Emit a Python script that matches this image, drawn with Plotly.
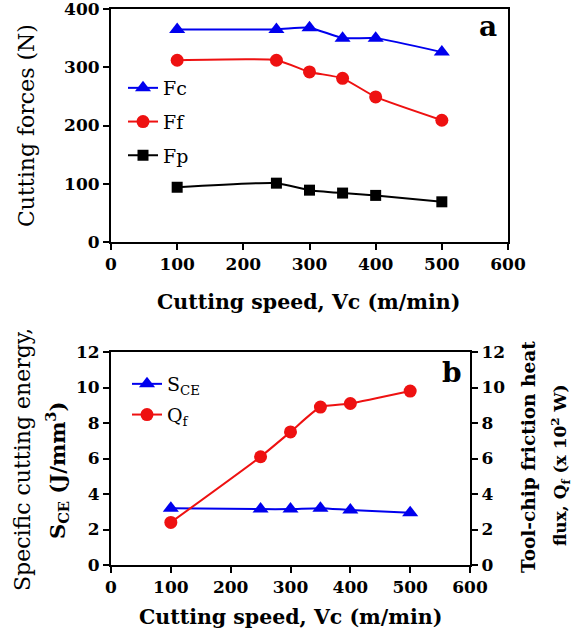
import plotly.graph_objects as go

speed = [100, 250, 300, 350, 400, 500]
Fc = [365, 365, 368, 350, 350, 326]
Ff = [312, 312, 292, 281, 249, 209]
Fp = [94, 101, 89, 84, 80, 69]
S_CE = [3.2, 3.15, 3.15, 3.2, 3.1, 2.95]
Q_f = [2.4, 6.1, 7.5, 8.9, 9.1, 9.8]

W, H = 583, 637
def px(x): return x / W
def py(y): return 1 - y / H

BLUE = "#0000EE"
RED = "#EE1111"
BLACK = "#000000"
SERIF = "DejaVu Serif"

fig = go.Figure()
line_kw = dict(shape="spline", smoothing=0.5, width=2)

fig.add_trace(go.Scatter(x=speed, y=Fc, name="Fc", mode="lines+markers",
                         line=dict(color=BLUE, **line_kw),
                         marker=dict(symbol="triangle-up", size=14, color=BLUE),
                         xaxis="x", yaxis="y", legend="legend", legendgroup="a"))
fig.add_trace(go.Scatter(x=speed, y=Ff, name="Ff", mode="lines+markers",
                         line=dict(color=RED, **line_kw),
                         marker=dict(symbol="circle", size=13, color=RED),
                         xaxis="x", yaxis="y", legend="legend", legendgroup="b"))
fig.add_trace(go.Scatter(x=speed, y=Fp, name="Fp", mode="lines+markers",
                         line=dict(color=BLACK, **line_kw),
                         marker=dict(symbol="square", size=11, color=BLACK),
                         xaxis="x", yaxis="y", legend="legend", legendgroup="c"))

fig.add_trace(go.Scatter(x=speed, y=S_CE, name="S<sub>CE</sub>", mode="lines+markers",
                         line=dict(color=BLUE, **line_kw),
                         marker=dict(symbol="triangle-up", size=14, color=BLUE),
                         xaxis="x2", yaxis="y2", legend="legend2", legendgroup="d"))
fig.add_trace(go.Scatter(x=speed, y=Q_f, name="Q<sub>f</sub>", mode="lines+markers",
                         line=dict(color=RED, **line_kw),
                         marker=dict(symbol="circle", size=13, color=RED),
                         xaxis="x2", yaxis="y3", legend="legend2", legendgroup="e"))

tickfont = dict(family=SERIF, size=17, color="black", weight="bold")
ax_common = dict(showgrid=False, zeroline=False, showline=True, linecolor="black",
                 linewidth=2, ticks="outside", ticklen=6, tickwidth=2, tickcolor="black",
                 tickfont=tickfont, automargin=False, ticklabeloverflow="allow")

fig.update_layout(
    width=W, height=H,
    margin=dict(l=0, r=0, t=0, b=0, pad=0, autoexpand=False),
    paper_bgcolor="white", plot_bgcolor="white",
    xaxis=dict(domain=[px(111), px(508)], range=[0, 600], dtick=100, anchor="y",
               mirror=True, **ax_common),
    yaxis=dict(domain=[py(242), py(9)], range=[0, 400], dtick=100, anchor="x",
               mirror=True, **ax_common),
    xaxis2=dict(domain=[px(111), px(470)], range=[0, 600], dtick=100, anchor="y2",
                mirror=True, **ax_common),
    yaxis2=dict(domain=[py(565), py(352)], range=[0, 12], dtick=2, anchor="x2",
                **ax_common),
    yaxis3=dict(range=[0, 12], dtick=2, anchor="x2", overlaying="y2", side="right",
                **ax_common),
    legend=dict(x=px(123), y=py(69), xanchor="left", yanchor="top",
                bgcolor="rgba(0,0,0,0)", tracegroupgap=6,
                font=dict(family=SERIF, size=19, color="black")),
    legend2=dict(x=px(127), y=py(365), xanchor="left", yanchor="top",
                 bgcolor="rgba(0,0,0,0)", tracegroupgap=3,
                 font=dict(family=SERIF, size=19, color="black")),
    showlegend=True,
)

def ann(text, x, y, angle=0, size=19):
    fig.add_annotation(text=text, x=px(x), y=py(y), xref="paper", yref="paper",
                       xanchor="center", yanchor="middle", showarrow=False,
                       textangle=angle, font=dict(family=SERIF, size=size, color="black"))

ann("Cutting forces (N)", 27, 126, -90, size=22)
ann("<b>Cutting speed, Vc (m/min)</b>", 308, 302, size=20.5)
ann("<b>a</b>", 488, 27, size=28)
ann("Specific cutting energy,", 22, 460, -90, size=22)
ann("<b>S<sub>CE</sub> (J/mm<sup>3</sup>)</b>", 57, 470, -90, size=21)
ann("<b>Tool-chip friction heat</b>", 528, 457, -90, size=18.5)
ann("<b>flux, Q<sub>f</sub> (x 10<sup>2</sup> W)</b>", 560, 465, -90, size=17)
ann("<b>Cutting speed, Vc (m/min)</b>", 290, 617, size=20.5)
ann("<b>b</b>", 452, 373, size=28)

fig.write_html("out.html", config={"displayModeBar": False},
               post_script="document.body.style.margin='0';document.body.style.overflow='hidden';")
